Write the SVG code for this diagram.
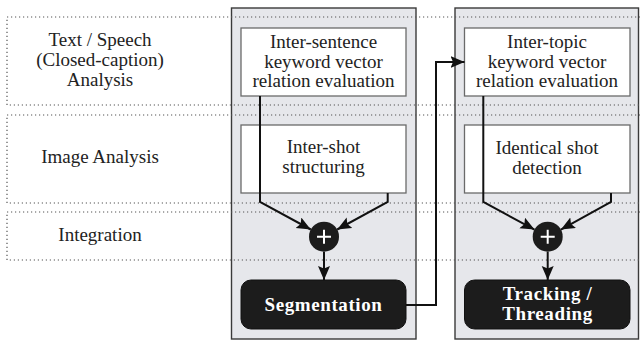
<svg xmlns="http://www.w3.org/2000/svg" width="640" height="343" viewBox="0 0 640 343">
<style>
.col{fill:#e6e7eb;stroke:#3a3a3a;stroke-width:1.4}
.band{fill:none;stroke:#555;stroke-width:1.2;stroke-dasharray:1.2 2.8}
.box{fill:#fff;stroke:#6a6a6a;stroke-width:1.3}
.dark{fill:#1c1c1c;stroke:#111;stroke-width:1}
.t{font-family:"Liberation Serif","Times New Roman",serif;font-size:19px;fill:#222;text-anchor:middle}
.b{font-family:"Liberation Serif","Times New Roman",serif;font-size:19px;font-weight:bold;fill:#fff;text-anchor:middle;letter-spacing:0.6px}
.ln{fill:none;stroke:#111;stroke-width:2}
.plus{stroke:#fff;stroke-width:2}
</style>
<defs>
<marker id="ah" markerUnits="userSpaceOnUse" markerWidth="16" markerHeight="14" refX="14" refY="6" orient="auto">
<path d="M0,0 L14,6 L0,12 L2.5,6 z" fill="#111"/>
</marker>
</defs>
<rect width="640" height="343" fill="#fff"/>
<g id="columns">
<rect class="col" x="231.5" y="8" width="184.5" height="331"/>
<rect class="col" x="455" y="8" width="183.5" height="331"/>
</g>
<g id="bands">
<rect class="band" x="7" y="17" width="640" height="88"/>
<rect class="band" x="7" y="115" width="640" height="88"/>
<rect class="band" x="7" y="212" width="640" height="48"/>
<text class="t" x="100" y="46">Text / Speech</text>
<text class="t" x="100" y="66">(Closed-caption)</text>
<text class="t" x="100" y="86">Analysis</text>
<text class="t" x="100" y="163">Image Analysis</text>
<text class="t" x="100" y="241">Integration</text>
</g>
<g id="inter-sentence">
<rect class="box" x="241" y="28" width="165" height="68"/>
<text class="t" x="323.5" y="48">Inter-sentence</text>
<text class="t" x="323.5" y="68">keyword vector</text>
<text class="t" x="323.5" y="87">relation evaluation</text>
</g>
<g id="inter-shot">
<rect class="box" x="241" y="125" width="165" height="68"/>
<text class="t" x="323.5" y="153">Inter-shot</text>
<text class="t" x="323.5" y="173">structuring</text>
</g>
<g id="inter-topic">
<rect class="box" x="464.5" y="28" width="165.5" height="68"/>
<text class="t" x="547" y="48">Inter-topic</text>
<text class="t" x="547" y="68">keyword vector</text>
<text class="t" x="547" y="87">relation evaluation</text>
</g>
<g id="identical-shot">
<rect class="box" x="464.5" y="125" width="165.5" height="68"/>
<text class="t" x="547" y="154">Identical shot</text>
<text class="t" x="547" y="174">detection</text>
</g>
<g id="segmentation">
<rect class="dark" x="241" y="280" width="165" height="49" rx="10"/>
<text class="b" x="323.5" y="311">Segmentation</text>
</g>
<g id="tracking">
<rect class="dark" x="464.5" y="280" width="165.5" height="49" rx="10"/>
<text class="b" x="547.5" y="300">Tracking /</text>
<text class="b" x="547.5" y="320">Threading</text>
</g>
<g id="plus-left">
<circle cx="324" cy="236.7" r="15" fill="#1c1c1c"/>
<path class="plus" d="M317,236.7 H331 M324,229.7 V243.7"/>
</g>
<g id="plus-right">
<circle cx="547.7" cy="236.7" r="15" fill="#1c1c1c"/>
<path class="plus" d="M540.7,236.7 H554.7 M547.7,229.7 V243.7"/>
</g>
<g id="connectors">
<path class="ln" d="M260,96 V202 L310.8,229.5" marker-end="url(#ah)"/>
<path class="ln" d="M387.7,193 V202 L337.2,229.5" marker-end="url(#ah)"/>
<path class="ln" d="M324,251.7 V280" marker-end="url(#ah)"/>
<path class="ln" d="M483.3,96 V202 L534.5,229.6" marker-end="url(#ah)"/>
<path class="ln" d="M611,193 V202 L560.9,229.6" marker-end="url(#ah)"/>
<path class="ln" d="M547.7,251.7 V280" marker-end="url(#ah)"/>
<path class="ln" d="M406,305 H436 V62 H464.5" marker-end="url(#ah)"/>
</g>
</svg>
